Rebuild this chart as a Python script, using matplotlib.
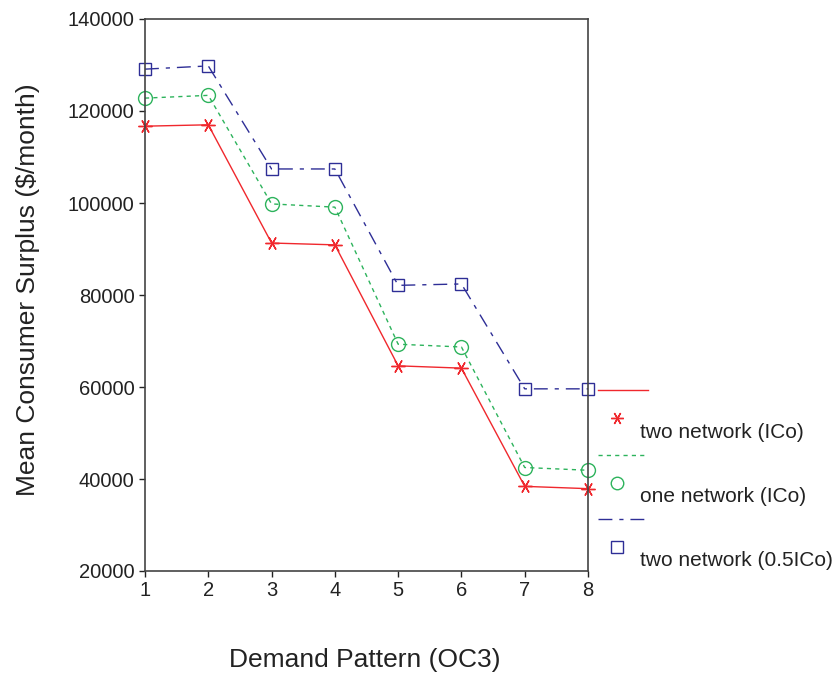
import matplotlib
matplotlib.use('Agg')
import matplotlib.pyplot as plt
from matplotlib.lines import Line2D

plt.rcParams['font.family'] = ['Liberation Sans', 'DejaVu Sans']

# demand patterns and mean consumer surplus per scenario
patterns = [1, 2, 3, 4, 5, 6, 7, 8]
two_net_ico = [116700, 117000, 91300, 90900, 64600, 64100, 38400, 37900]
one_net_ico = [122800, 123400, 99800, 99100, 69300, 68700, 42500, 41900]
two_net_half = [129100, 129800, 107400, 107400, 82100, 82400, 59600, 59600]
labels = ['two network (ICo)', 'one network (ICo)', 'two network (0.5ICo)']

red = '#f0282d'
green = '#2db35c'
blue = '#2e2e96'

W, H = 837, 677
fig = plt.figure(figsize=(W / 100, H / 100), dpi=100)
ax = fig.add_axes([145 / W, 1 - 571 / H, (588 - 145) / W, (571 - 19) / H])

styles = [
    dict(color=red, linestyle='-', marker=(6, 2, 90), markersize=10, mfc='none'),
    dict(color=green, linestyle=(0, (3, 3)), marker='o', markersize=10, mfc='none'),
    dict(color=blue, linestyle=(0, (10, 5, 3, 5)), marker='s', markersize=9, mfc='none'),
]
series = [two_net_ico, one_net_ico, two_net_half]
for vals, st in zip(series, styles):
    ax.plot(patterns, vals, linewidth=1.0, markeredgewidth=1.0, clip_on=False, **st)

ax.set_xlim(1, 8)
ax.set_ylim(20000, 140000)
ax.set_xticks(patterns)
ax.set_yticks(range(20000, 140001, 20000))
ax.tick_params(direction='out', length=4, width=1, labelsize=14.5, colors='#222222')
for sp in ax.spines.values():
    sp.set_color('#444444')
    sp.set_linewidth(1.2)

fig.text(365 / W, 1 - 660 / H, 'Demand Pattern (OC3)', fontsize=19, ha='center', va='center', color='#222222')
fig.text(28 / W, 1 - 290 / H, 'Mean Consumer Surplus ($/month)', fontsize=19, ha='center', va='center',
         rotation=90, color='#222222')

# legend drawn by hand: line sample on top, marker below, label beside it
line_y = [390, 455, 519]
for i, st in enumerate(styles):
    ly = 1 - line_y[i] / H
    fig.add_artist(Line2D([598 / W, 648 / W], [ly, ly], transform=fig.transFigure,
                          color=st['color'], linestyle=st['linestyle'], linewidth=1.0))
    my = 1 - (line_y[i] + 28) / H
    fig.add_artist(Line2D([617 / W], [my], transform=fig.transFigure, linestyle='none',
                          color=st['color'], marker=st['marker'], markersize=st['markersize'] - 1,
                          mfc='none', markeredgewidth=1.0))
    fig.text(640 / W, 1 - (line_y[i] + 42) / H, labels[i], fontsize=15, ha='left', va='center', color='#222222')

fig.savefig('out.png', dpi=100)
